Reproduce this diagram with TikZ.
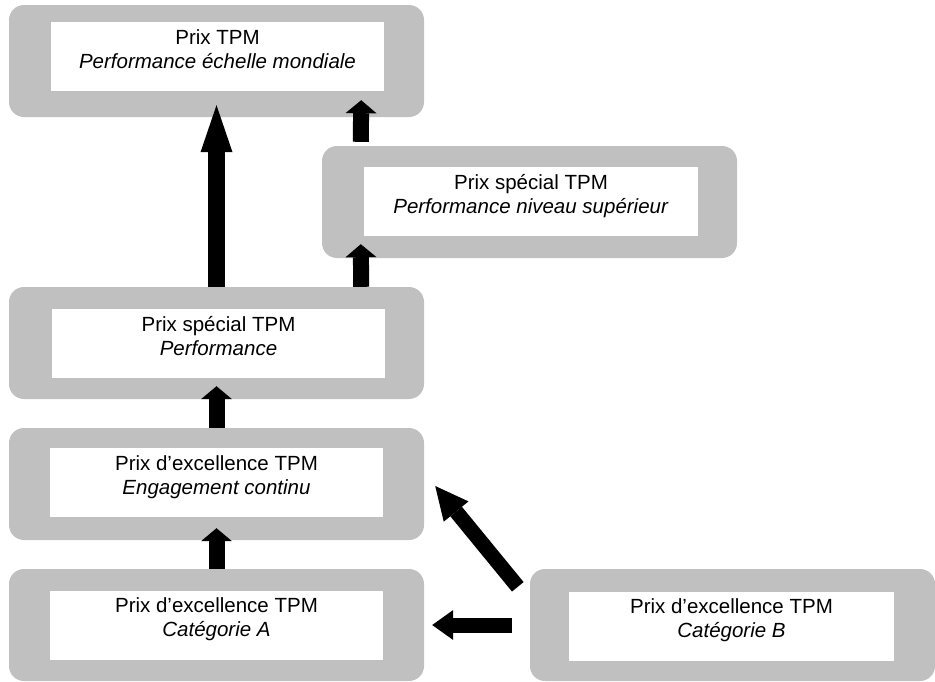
\documentclass[tikz,border=0pt]{standalone}
\usepackage{fontspec}
\setmainfont{Liberation Sans}
\usepackage{tikz}
\usetikzlibrary{arrows.meta,positioning}
\definecolor{framegray}{RGB}{192,192,192}

\begin{document}
\begin{tikzpicture}[x=1pt,y=-1pt,
    font=\fontsize{20.5}{23.7}\selectfont,
    frame/.style={fill=framegray,
        rounded corners=15pt,
        minimum width=415pt,
        minimum height=112pt,
        inner sep=0},
    inbox/.style={fill=white,
        minimum width=333pt,
        minimum height=69pt,
        inner sep=0},
    prize/.style={align=center, inner sep=0},
    blockarrow/.style={line width=16pt,
        -{Triangle[width=31pt,length=13pt,line width=0pt]}}]

\useasboundingbox (0,0) rectangle (935,681);

% Prix TPM
\node[frame] (top) at (216.5,61) {};
\node[inbox] (topin) at (217.5,56.5) {};
\node[prize, below=7.5pt of topin.north] (toptxt) {Prix TPM\\ \textit{Performance échelle mondiale}};

% Prix special, niveau superieur
\node[frame] (sup) at (529.5,202) {};
\node[inbox, minimum width=334pt] (supin) at (531,201.5) {};
\node[prize, below=7.5pt of supin.north] (suptxt) {Prix spécial TPM\\ \textit{Performance niveau supérieur}};

% Prix special, performance
\node[frame] (perf) at (216.5,343) {};
\node[inbox] (perfin) at (218.5,343.5) {};
\node[prize, below=7.5pt of perfin.north] (perftxt) {Prix spécial TPM\\ \textit{Performance}};

% Engagement continu
\node[frame] (eng) at (216.5,484) {};
\node[inbox] (engin) at (216.5,482.5) {};
\node[prize, below=7.5pt of engin.north] (engtxt) {Prix d’excellence TPM\\ \textit{Engagement continu}};

% Categorie A
\node[frame] (catA) at (216.5,625) {};
\node[inbox] (catAin) at (216.5,625) {};
\node[prize, below=7.5pt of catAin.north] (catAtxt) {Prix d’excellence TPM\\ \textit{Catégorie A}};

% Categorie B
\node[frame, minimum width=405pt] (catB) at (732.5,625) {};
\node[inbox, minimum width=325pt] (catBin) at (731.5,626.5) {};
\node[prize, below=6.5pt of catBin.north] (catBtxt) {Prix d’excellence TPM\\ \textit{Catégorie B}};

% Arrows
\draw[blockarrow, line width=17pt,
    -{Triangle[width=32pt,length=47pt,line width=0pt]}]
    (perf.north) -- ([yshift=12pt]top.south);
\draw[blockarrow] ([xshift=39pt,yshift=4pt]sup.north west) -- ([xshift=-63pt,yshift=17pt]top.south east);
\draw[blockarrow] ([xshift=-63pt]perf.north east) -- ([xshift=39pt,yshift=14pt]sup.south west);
\draw[blockarrow] (eng.north) -- ([yshift=13pt]perf.south);
\draw[blockarrow] (catA.north) -- ([yshift=12pt]eng.south);
\draw[blockarrow, line width=15pt,
    -{Triangle[width=30pt,length=21pt,line width=0pt]}]
    ([xshift=-18pt]catB.west) -- ([xshift=8pt]catA.east);
\draw[blockarrow, line width=15pt,
    -{Triangle[width=32pt,length=33pt,line width=0pt]}]
    ([xshift=-12pt,yshift=-18pt]catB.north west) -- ([xshift=11pt,yshift=-2pt]eng.east);

\end{tikzpicture}
\end{document}
